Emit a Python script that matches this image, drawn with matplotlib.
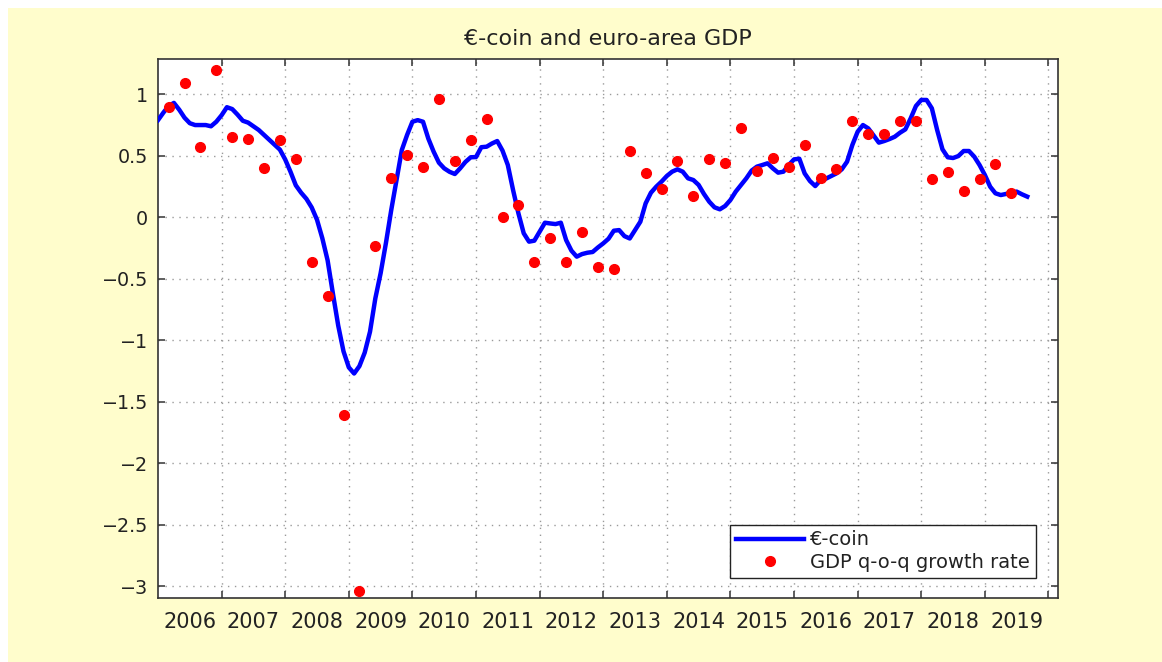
"""€-coin indicator vs euro-area GDP q-o-q growth (MATLAB-style figure)."""

import matplotlib

matplotlib.use("Agg")
import matplotlib.pyplot as plt
import numpy as np
from matplotlib.patches import Rectangle

# monthly €-coin, Dec 2005 .. Aug 2019
ecoin = [
    0.79, 0.85, 0.905, 0.93, 0.875, 0.81, 0.765, 0.75, 0.75, 0.75, 0.74, 0.777,
    0.83, 0.895, 0.88, 0.835, 0.785, 0.77, 0.74, 0.71, 0.67, 0.63, 0.59, 0.55,
    0.47, 0.37, 0.26, 0.20, 0.15, 0.08, -0.02, -0.17, -0.35, -0.62, -0.88, -1.09,
    -1.22, -1.27, -1.21, -1.10, -0.93, -0.66, -0.455, -0.21, 0.058, 0.30, 0.547, 0.67,
    0.777, 0.79, 0.777, 0.64, 0.534, 0.444, 0.398, 0.37, 0.352, 0.398, 0.45, 0.488,
    0.49, 0.57, 0.574, 0.60, 0.62, 0.542, 0.425, 0.22, 0.032, -0.13, -0.198, -0.19,
    -0.117, -0.044, -0.05, -0.055, -0.044, -0.185, -0.271, -0.32, -0.299, -0.288, -0.282, -0.245,
    -0.212, -0.174, -0.109, -0.104, -0.153, -0.172, -0.104, -0.036, 0.113, 0.2, 0.249, 0.29,
    0.336, 0.371, 0.39, 0.371, 0.317, 0.303, 0.263, 0.19, 0.127, 0.081, 0.065, 0.092,
    0.141, 0.209, 0.263, 0.317, 0.38, 0.412, 0.425, 0.439, 0.398, 0.363, 0.371, 0.425,
    0.471, 0.476, 0.357, 0.295, 0.254, 0.303, 0.314, 0.336, 0.357, 0.39, 0.452, 0.588,
    0.696, 0.75, 0.723, 0.666, 0.607, 0.62, 0.636, 0.655, 0.688, 0.715, 0.804, 0.905,
    0.954, 0.954, 0.886, 0.71, 0.553, 0.488, 0.482, 0.498, 0.539, 0.539, 0.493, 0.425,
    0.344, 0.249, 0.195, 0.181, 0.19, 0.2, 0.209, 0.187, 0.168,
]

# quarterly GDP growth, 2006Q1 .. 2019Q2
gdp = [
    0.90, 1.09, 0.57, 1.20,
    0.65, 0.64, 0.40, 0.63,
    0.47, -0.36, -0.64, -1.61,
    -3.04, -0.23, 0.32, 0.51,
    0.41, 0.96, 0.46, 0.63,
    0.80, 0.0, 0.10, -0.36,
    -0.17, -0.36, -0.12, -0.40,
    -0.42, 0.54, 0.36, 0.23,
    0.46, 0.17, 0.47, 0.44,
    0.73, 0.38, 0.48, 0.41,
    0.59, 0.32, 0.39, 0.78,
    0.68, 0.68, 0.78, 0.78,
    0.31, 0.37, 0.21, 0.31,
    0.43, 0.20,
]

years = list(range(2006, 2020))
yticks = [-3, -2.5, -2, -1.5, -1, -0.5, 0, 0.5, 1]
ytick_labels = ["\u22123", "\u22122.5", "\u22122", "\u22121.5", "\u22121",
                "\u22120.5", "0", "0.5", "1"]

# decimal-year positions: months from Dec 2005, quarters at their mid month
t_month = 2006 + np.arange(len(ecoin)) / 12
t_quarter = 2006 + (3 * np.arange(len(gdp)) + 2) / 12

plt.rcParams["font.family"] = ["DejaVu Sans"]

fig = plt.figure(figsize=(11.62, 6.62), dpi=100, facecolor="white")
fig.patches.append(Rectangle((8 / 1162, 0), 1, 1 - 8 / 662, transform=fig.transFigure,
                             facecolor="#fffdcc", edgecolor="none", zorder=-10))
ax = fig.add_axes([158 / 1162, 1 - 598 / 662, 900 / 1162, 539 / 662])
ax.set_facecolor("white")

ax.plot(t_month, ecoin, color="#0000ff", lw=3.2, label="\u20ac-coin", zorder=3)
ax.plot(t_quarter, gdp, ls="none", marker="o", ms=7, color="#ff0000",
        mec="#ff0000", label="GDP q-o-q growth rate", zorder=4)

ax.set_xlim(2006.0, 2020.15)
ax.set_ylim(-3.095, 1.287)

# grid / tick marks at year boundaries, labels centred on each year
ax.set_xticks(years[1:] + [2020])
ax.set_xticklabels([])
ax.set_xticks([y + 0.5 for y in years], minor=True)
ax.set_xticklabels([str(y) for y in years], minor=True)
ax.set_yticks(yticks)
ax.set_yticklabels(ytick_labels)

ax.tick_params(axis="both", which="major", direction="in", length=5, width=1.1,
               top=True, right=True, color="#333333", labelsize=13.8, pad=7)
ax.tick_params(axis="x", which="minor", length=0, labelsize=15, pad=10,
               labelcolor="#222222")
ax.tick_params(axis="y", labelcolor="#222222")

ax.grid(True, which="major", color="#9a9a9a", lw=1.0, ls=(0, (1, 4)))
for sp in ax.spines.values():
    sp.set_color("#333333")
    sp.set_linewidth(1.2)

ax.set_title("\u20ac-coin and euro-area GDP", fontsize=16, color="#222222", pad=10)

leg = ax.legend(loc="lower right", bbox_to_anchor=(0.975, 0.037), borderaxespad=0,
                fontsize=14, handlelength=3.5, handletextpad=0.3, borderpad=0.3,
                labelspacing=0.2, fancybox=False, framealpha=1, edgecolor="#222222")
leg.get_frame().set_linewidth(1.0)
for txt in leg.get_texts():
    txt.set_color("#222222")

fig.savefig("out.png", dpi=100, facecolor=fig.get_facecolor())
